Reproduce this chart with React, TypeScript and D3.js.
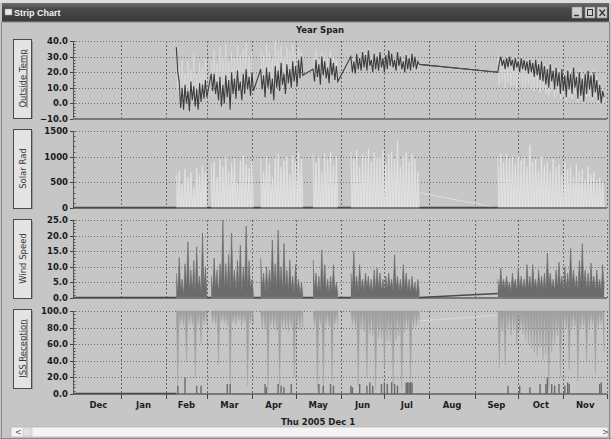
import React from "react";
import * as d3 from "d3";

// ---------- DATA ----------
const seg1Start = "2005-02-08";
const seg2Start = "2005-09-17";
const gapStart = "2005-07-25";
const STEP = 2; // days between samples

const monthLabels = ["Dec", "Jan", "Feb", "Mar", "Apr", "May", "Jun", "Jul", "Aug", "Sep", "Oct", "Nov"];
const tempTicks = [-10, 0, 10, 20, 30, 40];
const solarTicks = [0, 500, 1000, 1500];
const windTicks = [0, 5, 10, 15, 20, 25];
const issTicks = [0, 20, 40, 60, 80, 100];

const N = null;
// Outside temp (dark) daily hi / lo
const tempHi1 = [36, 14, 10, 12, 8, 14, 11, 9, 13, 12, 15, N,
  19, 19, 14, 17, 12, 18, 15, 20, 16, 21, 14, 19, 22, 17, 20, N, N,
  22, 18, 23, 20, 16, 24, 21, 26, 19, 25, 22, 27, 24, 28, 30, N, N, N,
  22, 28, 25, 30, 27, 23, 29, 26, 24, N, N, N, N,
  30, 27, 32, 29, 33, 31, 34, 28, 32, 30, 33, 29, 31, 34, 32, 28, 33, 30, 27, 31, 29, 32, 30, 27];
const tempLo1 = [20, -3, -4, 0, -5, 2, -2, -4, 1, 3, 4, N,
  8, 6, 2, -2, 0, 4, -4, 6, 3, 8, 2, 6, 9, 5, 8, N, N,
  9, 4, 10, 6, 2, 10, 8, 12, 6, 13, 10, 14, 11, 16, 18, N, N, N,
  14, 17, 12, 18, 16, 13, 18, 15, 14, N, N, N, N,
  20, 19, 22, 21, 23, 21, 24, 20, 22, 21, 23, 20, 22, 24, 23, 21, 24, 22, 20, 22, 21, 23, 22, 25];
const tempHi2 = [20, 30, 28, 29, 30, 28, 29, 27, 29, 28, 27, 28, 26, 28, 25, 27, 24, 22, 25, 21,
  23, 20, 22, 18, 21, 19, 23, 17, 20, 16, 19, 21, 18, 20, 15, 12, 8];
const tempLo2 = [26, 24, 22, 23, 24, 21, 23, 20, 22, 21, 19, 20, 17, 18, 15, 14, 12, 10, 14, 9,
  11, 6, 8, 4, 9, 6, 10, 3, 5, 1, 6, 9, 4, 7, 2, 0, 4];
// second (light) temperature trace
const lightHi1 = [30, 24, 28, 20, 27, 22, 32, 19, 26, 24, 29, N,
  28, 34, 25, 36, 30, 38, 27, 33, 29, 37, 31, 35, 39, 30, 33, N, N,
  35, 31, 38, 33, 29, 40, 34, 37, 30, 36, 33, 38, 32, 35, 33, N, N, N,
  30, 34, 28, 33, 31, 29, 34, 30, 28, N, N, N, N,
  31, 29, 33, 30, 34, 32, 35, 30, 33, 31, 34, 30, 32, 35, 33, 29, 34, 31, 28, 32, 30, 33, 31, 28];
const lightLo1 = [8, 4, 6, 2, 7, 5, 3, 6, 4, 8, 7, N,
  10, 8, 5, 9, 6, 11, 4, 10, 7, 12, 8, 10, 13, 9, 11, N, N,
  12, 9, 14, 11, 7, 15, 12, 16, 10, 15, 13, 17, 14, 18, 20, N, N, N,
  16, 19, 15, 20, 18, 15, 20, 17, 16, N, N, N, N,
  23, 22, 25, 23, 26, 24, 27, 22, 25, 23, 26, 22, 24, 27, 25, 23, 26, 24, 22, 24, 23, 25, 24, 22];
const lightHi2 = [30, 31, 29, 30, 31, 29, 30, 28, 30, 29, 28, 29, 27, 28, 26, 27, 25, 24, 26, 23,
  24, 22, 23, 20, 22, 21, 24, 19, 21, 18, 20, 22, 19, 21, 17, 14, 10];
const lightLo2 = [12, 14, 10, 13, 11, 12, 9, 13, 11, 10, 12, 9, 8, 10, 7, 9, 6, 5, 8, 4,
  6, 3, 5, 2, 4, 3, 6, 1, 3, 0, 4, 5, 2, 4, 0, -1, 0];
const tempGapLine = [25, 20];

// Solar radiation daily peaks
const solar1 = [650, 720, 480, 760, 600, 700, 380, 780, 650, 820, 700, N,
  850, 900, 600, 950, 800, 1000, 700, 880, 950, 500, 920, 1030, 850, 780, 900, N, N,
  950, 700, 1000, 880, 600, 980, 1050, 800, 920, 1000, 650, 1020, 900, 1080, 950, N, N, N,
  1050, 880, 1000, 700, 1070, 950, 1100, 820, 1000, N, N, N, N,
  1100, 950, 1130, 800, 1050, 1000, 1150, 900, 1080, 1000, 1000, 1120, 850, 1050, 1100, 950, 1320, 800, 1000, 1080, 900, 1050, 950, 700];
const solar2 = [1000, 1070, 900, 1050, 950, 1000, 850, 1020, 930, 980, 800, 1225, 900, 950, 750, 1000, 850, 900, 700, 950,
  800, 850, 650, 900, 750, 800, 600, 850, 700, 750, 550, 800, 650, 700, 550, 600, 500];
const solarGapLine = [300, 0];

// Wind speed daily hi / lo
const windHi1 = [8, 13, 6, 11, 18, 9, 12, 16.4, 7, 20.8, 10, N,
  7, 12.8, 9, 11, 25, 11, 14, 20.8, 9, 12, 17, 10, 23, 12, 6, N, N,
  12.8, 8, 10, 9, 18.6, 11, 21.8, 10, 17.5, 9, 12.3, 7, 10.7, 6, 5, N, N, N,
  12.3, 8, 7, 15.4, 10.7, 6, 7, 10.7, 5, N, N, N, N,
  8, 14.9, 7, 10.7, 6, 8, 7, 6, 9, 9.6, 8, 6, 7, 8, 6, 13.9, 7, 6, 10.7, 8, 6, 7, 5, 6];
const windLo1 = [1, 2, 0.5, 3, 1.5, 2, 0.5, 3, 1, 2.5, 1.5, N,
  2, 3, 1, 4, 2, 3, 1.5, 4, 2, 3, 1, 3.5, 2, 2.5, 1, N, N,
  3, 1.5, 2, 3, 4, 2, 3.5, 2, 3, 1.5, 2.5, 1, 2, 1, 0.5, N, N, N,
  2, 1.5, 1, 3, 2, 1, 1.5, 2, 1, N, N, N, N,
  2, 3, 1.5, 2.5, 2, 3, 2, 1.5, 2.5, 3, 2, 1.5, 2.5, 3, 2, 3, 2, 1.5, 2.5, 2, 1.5, 2, 1, 1.5];
const windHi2 = [6, 9.6, 6, 7, 5, 8, 6, 9, 7, 6, 10.7, 7, 10.7, 6, 9, 7, 8, 14.4, 8, 6,
  9, 11.5, 7, 10, 8, 15.9, 9, 7, 12, 17.5, 9, 8, 11.2, 7, 9, 6, 10.7];
const windLo2 = [2, 3, 2.5, 3, 2, 3.5, 2, 3, 2.5, 2, 3, 2, 3.5, 2, 3, 2.5, 2, 4, 3, 2,
  3, 3.5, 2, 3, 2.5, 4, 3, 2, 3, 4, 2.5, 2, 3.5, 2, 3, 2, 3];
const windGapLine = [0, 1.3];

// ISS reception daily minimum (%)
const iss1 = [10, 84, 82, 40, 85, 83, 20, 84, 60, 83, 85, N,
  86, 84, 35, 87, 85, 83, 5, 86, 84, 88, 82, 86, 10, 85, 84, N, N,
  80, 78, 5, 82, 79, 76, 10, 80, 78, 75, 81, 20, 79, 77, 80, N, N, N,
  82, 5, 84, 10, 83, 81, 15, 84, 82, N, N, N, N,
  83, 80, 10, 78, 75, 20, 72, 70, 5, 68, 66, 30, 64, 62, 10, 65, 70, 5, 74, 78, 15, 80, 82, 85];
const iss2 = [30, 75, 35, 80, 70, 78, 60, 76, 72, 65, 60, 55, 50, 45, 55, 40, 48, 5, 50, 60,
  70, 20, 75, 78, 30, 80, 82, 15, 79, 82, 40, 80, 83, 25, 81, 84, 50];
const issGapLine = [88, 95];
const issBarDates = ["2005-02-09", "2005-02-14", "2005-02-22", "2005-02-25", "2005-03-15", "2005-03-17",
  "2005-04-10", "2005-04-11", "2005-04-19", "2005-04-21", "2005-04-23", "2005-04-28",
  "2005-05-17", "2005-05-20", "2005-05-25", "2005-05-27", "2005-06-08", "2005-06-09", "2005-06-14",
  "2005-06-19", "2005-06-21", "2005-06-23", "2005-06-29", "2005-07-01", "2005-07-03", "2005-07-06",
  "2005-07-08", "2005-07-10", "2005-07-16", "2005-07-17", "2005-07-18", "2005-07-19", "2005-07-20",
  "2005-09-24", "2005-10-02", "2005-10-09", "2005-10-16", "2005-10-20", "2005-10-21", "2005-10-24",
  "2005-10-26", "2005-10-29", "2005-11-02", "2005-11-04", "2005-11-05", "2005-11-26", "2005-11-27"];
const issBarHeights = [10, 20, 10, 10, 12, 12, 12, 8, 12, 10, 8, 12, 12, 10, 12, 10, 10, 8, 12, 10, 14, 10, 12,
  14, 12, 14, 12, 10, 14, 14, 14, 14, 14, 10, 10, 8, 12, 12, 20, 12, 10, 12, 10, 14, 12, 12, 14];

// ---------- HELPERS ----------
const parse = d3.timeParse("%Y-%m-%d");
const X0 = 73, X1 = 607;
const x = d3.scaleTime().domain([parse("2004-11-29")!, parse("2005-12-01")!]).range([X0, X1]);

type P = { d: Date; v: number } | null;
function zig(start: string, hi: (number | null)[], lo: (number | null)[] | null): P[] {
  const s = parse(start)!;
  const out: P[] = [];
  hi.forEach((h, i) => {
    const d = d3.timeDay.offset(s, i * STEP);
    if (h == null) { out.push(null); return; }
    out.push({ d, v: h });
    out.push({ d: d3.timeDay.offset(d, 1), v: lo ? (lo[i] as number) : 0 });
  });
  return out;
}
function gapRuns(start: string, arr: (number | null)[]): [Date, Date][] {
  const s = parse(start)!;
  const runs: [Date, Date][] = [];
  let i = 0;
  while (i < arr.length) {
    if (arr[i] == null) {
      let j = i;
      while (j < arr.length && arr[j] == null) j++;
      runs.push([d3.timeDay.offset(s, (i - 1) * STEP + 1), d3.timeDay.offset(s, j * STEP)]);
      i = j;
    } else i++;
  }
  return runs;
}

const FONT = "'DejaVu Sans', Verdana, sans-serif";
const BG = "#c6c6c6";

type Panel = {
  label: string; underline: boolean; top: number; bottom: number; domain: [number, number];
  ticks: number[]; fmt: (n: number) => string; minor: number; box: [number, number];
};
const panels: Panel[] = [
  { label: "Outside Temp", underline: true, top: 41, bottom: 119, domain: [-10, 40], ticks: tempTicks, fmt: d3.format(".1f"), minor: 2, box: [39, 118] },
  { label: "Solar Rad", underline: false, top: 131, bottom: 208, domain: [0, 1500], ticks: solarTicks, fmt: d3.format("d"), minor: 100, box: [129, 208] },
  { label: "Wind Speed", underline: false, top: 220, bottom: 298, domain: [0, 25], ticks: windTicks, fmt: d3.format(".1f"), minor: 1, box: [219, 298] },
  { label: "ISS Reception", underline: true, top: 311, bottom: 394, domain: [0, 100], ticks: issTicks, fmt: d3.format(".1f"), minor: 4, box: [309, 388] },
];

export default function App() {
  const ys = panels.map((p) => d3.scaleLinear().domain(p.domain).range([p.bottom, p.top]));
  const [yT, yS, yW, yI] = ys;

  const monthStarts = d3.timeMonth.range(parse("2004-12-01")!, parse("2005-12-02")!);
  const gridMonths = monthStarts.slice(1);
  const axisStart = x.domain()[0];
  const s1 = parse(seg1Start)!, s2 = parse(seg2Start)!, g0 = parse(gapStart)!;

  // temperature
  const tLine = d3.line<any>().defined((p) => p != null).x((p) => x(p.d)).y((p) => yT(p.v));
  const darkPts = [...zig(seg1Start, tempHi1, tempLo1), ...zig(seg2Start, tempHi2, tempLo2)].filter((p) => p != null);
  const tempGap = [{ d: g0, v: tempGapLine[0] }, { d: s2, v: tempGapLine[1] }];

  // solar
  const sLine = d3.line<any>().defined((p) => p != null).x((p) => x(p.d)).y((p) => yS(p.v));
  const sArea = d3.area<any>().defined((p) => p != null).x((p) => x(p.d)).y0(yS(0)).y1((p) => yS(p.v));
  const solarRuns: [Date, Date][] = [[axisStart, s1], ...gapRuns(seg1Start, solar1), [g0, s2]];
  const sol1 = zig(seg1Start, solar1, null);
  const sol2 = zig(seg2Start, solar2, null);

  // wind
  const wArea = d3.area<any>().defined((p) => p != null).x((p) => x(p.d)).y0(yW(0)).y1((p) => yW(p.v));
  const wLine = d3.line<any>().defined((p) => p != null).x((p) => x(p.d)).y((p) => yW(p.v));
  const windRuns: [Date, Date][] = [[axisStart, s1], ...gapRuns(seg1Start, windHi1)];
  const wind1 = zig(seg1Start, windHi1, windLo1);
  const wind2 = zig(seg2Start, windHi2, windLo2);

  // iss
  const iArea = d3.area<any>().defined((p) => p != null).x((p) => x(p.d)).y0(yI(100)).y1((p) => yI(p.v));
  const isz1 = zig(seg1Start, iss1.map((v) => (v == null ? null : 100)), iss1);
  const isz2 = zig(seg2Start, iss2.map(() => 100), iss2);

  const monthTicks = monthLabels.map((m, i) => ({
    m,
    cx: (x(monthStarts[i]) + x(d3.timeMonth.offset(monthStarts[i], 1))) / 2,
  }));

  return (
    <svg width={611} height={439} style={{ position: "fixed", left: 0, top: 0, display: "block" }}>
      <defs>
        <linearGradient id="tb" x1="0" y1="0" x2="0" y2="1">
          <stop offset="0" stopColor="#6e6e6e" />
          <stop offset="0.3" stopColor="#4a4a4a" />
          <stop offset="1" stopColor="#3a3a3a" />
        </linearGradient>
      </defs>
      <rect x={0} y={0} width={611} height={439} fill={BG} />
      <rect x={0} y={0} width={611} height={3} fill="#dedede" />
      {/* title bar */}
      <rect x={2} y={3} width={607} height={19} fill="url(#tb)" />
      <rect x={5} y={9} width={7} height={6} fill="#e8e8e8" stroke="#999" strokeWidth={0.5} />
      <text x={14} y={16} fontFamily="'Liberation Sans', Arial, sans-serif" fontSize={9} fontWeight="bold" fill="#f2f2f2">Strip Chart</text>
      {[572, 585, 597].map((bx, i) => (
        <rect key={i} x={bx} y={7} width={10} height={11} fill="#cfcfcf" stroke="#888" strokeWidth={0.6} />
      ))}
      <line x1={574} y1={15.5} x2={579} y2={15.5} stroke="#333" strokeWidth={1.5} />
      <rect x={587.5} y={9.5} width={5} height={6} fill="none" stroke="#333" strokeWidth={1} />
      <path d="M599.5,9.5 L605,16 M605,9.5 L599.5,16" stroke="#333" strokeWidth={1.3} />
      <line x1={2} y1={22} x2={609} y2={22} stroke="#8a8a8a" />
      <line x1={1.5} y1={22} x2={1.5} y2={438} stroke="#8a8a8a" />
      <line x1={609.5} y1={22} x2={609.5} y2={438} stroke="#8a8a8a" />

      <text x={320} y={33} textAnchor="middle" fontFamily={FONT} fontSize={8.5} fontWeight="bold" fill="#1e1e1e">Year Span</text>

      {panels.map((p, pi) => {
        const y = ys[pi];
        const minors = d3.range(p.domain[0], p.domain[1] + 1e-9, p.minor);
        const cy = (p.box[0] + p.box[1]) / 2;
        return (
          <g key={pi}>
            <rect x={13.5} y={p.box[0] + 0.5} width={18} height={p.box[1] - p.box[0]} fill="#e4e4e4" stroke="#4a4a4a" strokeWidth={1} />
            <line x1={32.5} y1={p.box[0] + 2} x2={32.5} y2={p.box[1] + 1} stroke="#9a9a9a" />
            <text transform={`translate(25.5,${cy}) rotate(-90)`} textAnchor="middle" fontFamily={FONT} fontSize={8.5}
              fill="#3a3a3a" textDecoration={p.underline ? "underline" : undefined}>{p.label}</text>
            {p.ticks.filter((t) => t !== p.domain[0]).map((t) => (
              <line key={t} x1={X0} x2={X1} y1={Math.round(y(t)) + 0.5} y2={Math.round(y(t)) + 0.5} stroke="#707070" strokeWidth={1} strokeDasharray="1,2" />
            ))}
            {gridMonths.map((m, i) => (
              <line key={i} x1={Math.round(x(m)) + 0.5} x2={Math.round(x(m)) + 0.5} y1={p.top} y2={p.bottom} stroke="#6a6a6a" strokeWidth={1} strokeDasharray="2,2" />
            ))}
            <line x1={X0 + 0.5} x2={X0 + 0.5} y1={p.top} y2={p.bottom} stroke="#555" strokeWidth={1} />
            {minors.map((t, i) => (
              <line key={i} x1={X0} x2={X0 + 2.5} y1={Math.round(y(t)) + 0.5} y2={Math.round(y(t)) + 0.5} stroke="#555" />
            ))}
            {p.ticks.map((t) => (
              <g key={t}>
                <line x1={X0 - 3} x2={X0} y1={Math.round(y(t)) + 0.5} y2={Math.round(y(t)) + 0.5} stroke="#444" />
                <text x={68} y={y(t)} dy="0.36em" textAnchor="end" fontFamily={FONT} fontSize={8.5} fontWeight="bold" fill="#1a1a1a">{p.fmt(t)}</text>
              </g>
            ))}
          </g>
        );
      })}

      {/* ---- Temperature ---- */}
      <path d={tLine(zig(seg1Start, lightHi1, lightLo1)) || ""} fill="none" stroke="#e2e2e2" strokeWidth={0.6} />
      <path d={tLine(zig(seg2Start, lightHi2, lightLo2)) || ""} fill="none" stroke="#e2e2e2" strokeWidth={0.6} />
      <path d={tLine(darkPts) || ""} fill="none" stroke="#3c3c3c" strokeWidth={1.1} />
      <path d={tLine(tempGap) || ""} fill="none" stroke="#4a4a4a" strokeWidth={1} />

      {/* ---- Solar ---- */}
      <path d={sArea(sol1) || ""} fill="#d6d6d6" />
      <path d={sArea(sol2) || ""} fill="#d6d6d6" />
      <path d={sLine(sol1) || ""} fill="none" stroke="#e8e8e8" strokeWidth={0.7} />
      <path d={sLine(sol2) || ""} fill="none" stroke="#e8e8e8" strokeWidth={0.7} />
      <path d={sLine([{ d: g0, v: solarGapLine[0] }, { d: s2, v: solarGapLine[1] }]) || ""} fill="none" stroke="#e2e2e2" strokeWidth={0.8} />

      {/* ---- Wind ---- */}
      <path d={wArea(wind1) || ""} fill="#6c6c6c" />
      <path d={wArea(wind2) || ""} fill="#6c6c6c" />
      <path d={wLine(wind1) || ""} fill="none" stroke="#676767" strokeWidth={0.6} />
      <path d={wLine(wind2) || ""} fill="none" stroke="#676767" strokeWidth={0.6} />

      {/* ---- ISS ---- */}
      <path d={iArea(isz1) || ""} fill="#a0a0a0" stroke="#a0a0a0" strokeWidth={0.4} />
      <path d={iArea(isz2) || ""} fill="#a0a0a0" stroke="#a0a0a0" strokeWidth={0.4} />
      <line x1={x(g0)} x2={x(s2)} y1={yI(issGapLine[0])} y2={yI(issGapLine[1])} stroke="#dadada" strokeWidth={1} />

      {panels.map((p, pi) => (
        <line key={pi} x1={X0} x2={X1} y1={p.bottom} y2={p.bottom} stroke="#7a7a7a" strokeWidth={2} />
      ))}
      {solarRuns.map((r, i) => (
        <line key={"s" + i} x1={x(r[0])} x2={x(r[1])} y1={yS(0) - 0.5} y2={yS(0) - 0.5} stroke="#4a4a4a" strokeWidth={1.5} />
      ))}
      {windRuns.map((r, i) => (
        <line key={"w" + i} x1={x(r[0])} x2={x(r[1])} y1={yW(0) - 0.5} y2={yW(0) - 0.5} stroke="#4a4a4a" strokeWidth={1.5} />
      ))}
      <line x1={x(g0)} x2={x(s2)} y1={yW(windGapLine[0]) - 0.5} y2={yW(windGapLine[1]) - 0.5} stroke="#4a4a4a" strokeWidth={1.5} />
      <line x1={x(axisStart)} x2={x(s1)} y1={yI(0) - 0.5} y2={yI(0) - 0.5} stroke="#4a4a4a" strokeWidth={1.5} />

      {issBarDates.map((ds, i) => (
        <line key={i} x1={x(parse(ds)!)} x2={x(parse(ds)!)} y1={yI(0)} y2={yI(issBarHeights[i])} stroke="#6a6a6a" strokeWidth={1.4} />
      ))}

      {gridMonths.map((m, i) => (
        <line key={i} x1={Math.round(x(m)) + 0.5} x2={Math.round(x(m)) + 0.5} y1={394} y2={399} stroke="#444" />
      ))}
      {monthTicks.map((t, i) => (
        <text key={i} x={t.cx} y={408} textAnchor="middle" fontFamily={FONT} fontSize={8.5} fontWeight="bold" fill="#1e1e1e">{t.m}</text>
      ))}
      <text x={318} y={424.5} textAnchor="middle" fontFamily={FONT} fontSize={8.5} fontWeight="bold" fill="#1e1e1e">Thu 2005 Dec 1</text>

      <rect x={11} y={427} width={597} height={10} fill="#f4f4f4" stroke="#a8a8a8" strokeWidth={0.6} />
      <text x={15} y={435} fontFamily={FONT} fontSize={8} fill="#555">&lt;</text>
      <rect x={23} y={428} width={9} height={8} fill="#e2e2e2" stroke="#c4c4c4" strokeWidth={0.6} />
      <text x={602} y={435} fontFamily={FONT} fontSize={8} fill="#555">&gt;</text>
      <line x1={0} x2={611} y1={438.5} y2={438.5} stroke="#8a8a8a" />
    </svg>
  );
}
